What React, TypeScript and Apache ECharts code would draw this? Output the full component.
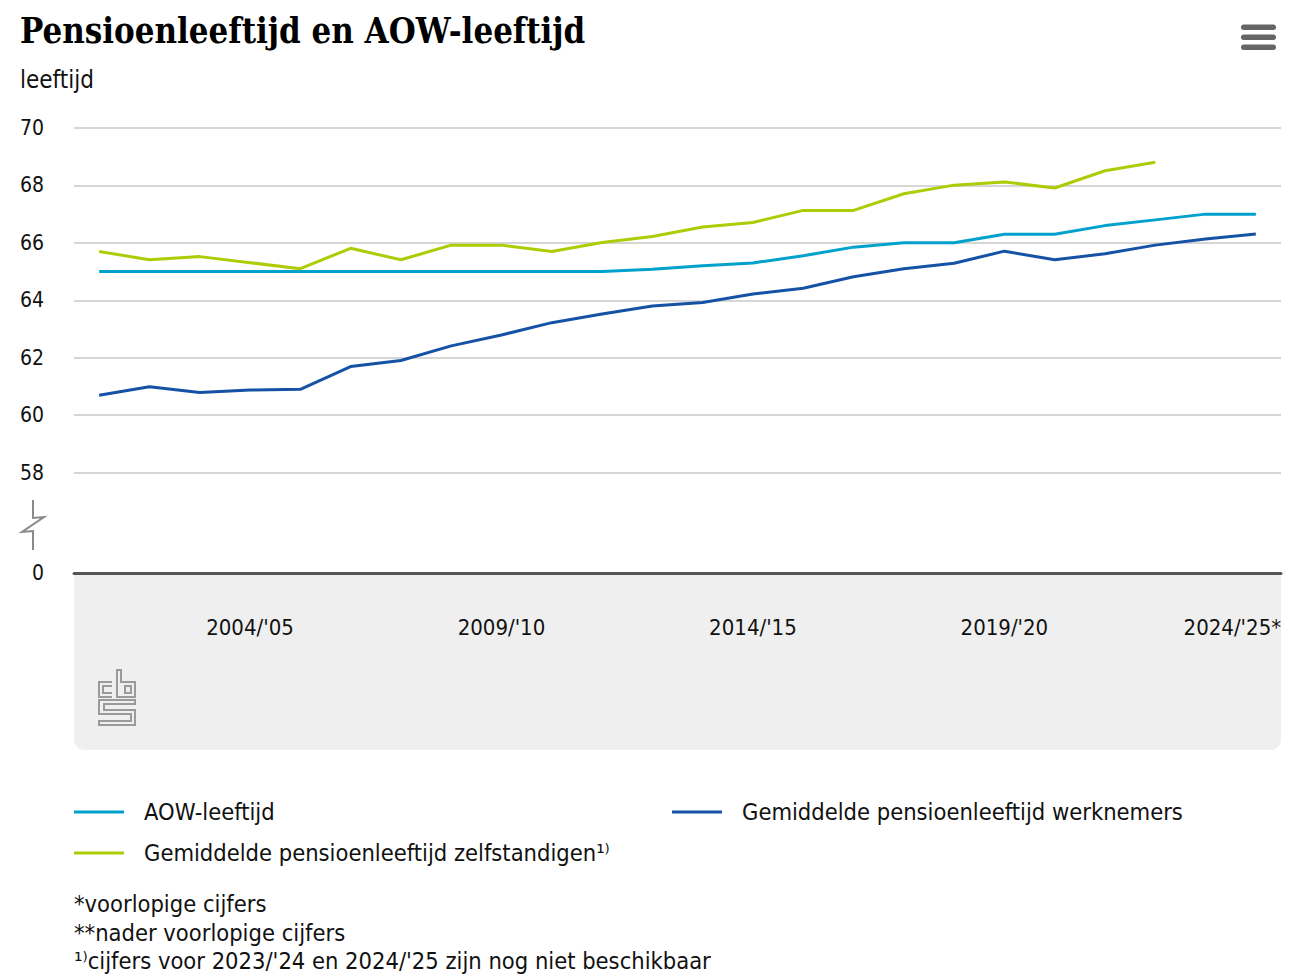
import React, { useEffect, useRef } from "react";
import * as echarts from "echarts";

const categories = [
  "2001/'02", "2002/'03", "2003/'04", "2004/'05", "2005/'06", "2006/'07",
  "2007/'08", "2008/'09", "2009/'10", "2010/'11", "2011/'12", "2012/'13",
  "2013/'14", "2014/'15", "2015/'16", "2016/'17", "2017/'18", "2018/'19",
  "2019/'20", "2020/'21", "2021/'22", "2022/'23", "2023/'24**", "2024/'25*",
];

const aowLeeftijd = [
  65, 65, 65, 65, 65, 65, 65, 65, 65, 65, 65, 65.08,
  65.2, 65.3, 65.55, 65.85, 66.0, 66.0, 66.3, 66.3, 66.6, 66.8, 67.0, 67.0,
];

const werknemers = [
  60.69, 60.99, 60.79, 60.87, 60.9, 61.69, 61.9, 62.41, 62.79, 63.22, 63.52, 63.8,
  63.92, 64.22, 64.42, 64.82, 65.1, 65.29, 65.71, 65.41, 65.62, 65.92, 66.13, 66.31,
];

const zelfstandigen = [
  65.7, 65.41, 65.52, 65.31, 65.1, 65.81, 65.41, 65.92, 65.92, 65.7, 66.01, 66.22,
  66.55, 66.71, 67.13, 67.13, 67.71, 68.01, 68.12, 67.91, 68.51, 68.81, null, null,
];

const yTickValues = [54.5, 58, 60, 62, 64, 66, 68, 70];

const seriesNames = [
  "AOW-leeftijd",
  "Gemiddelde pensioenleeftijd werknemers",
  "Gemiddelde pensioenleeftijd zelfstandigen¹⁾",
];

const footnotes = [
  "*voorlopige cijfers",
  "**nader voorlopige cijfers",
  "¹⁾cijfers voor 2023/'24 en 2024/'25 zijn nog niet beschikbaar",
];

const FONT =
  "'Liberation Sans Narrow', 'DejaVu Sans Condensed', 'Roboto Condensed', 'Noto Sans', sans-serif";
const TITLE_FONT = "'DejaVu Serif Condensed', 'DejaVu Serif', serif";

const LOGO_PATH =
  "M14,12 H1 V27 H14 M14,16 H5 V23 H14 " +
  "M19,0 H23 V12 H37 V27 H19 Z M27,16 H33 V23 H27 Z " +
  "M1,30 H37 V34 H6 V40 H37 V55 H1 V51 H33 V44 H1 Z";

let logoRegistered = false;
function registerLogo() {
  if (logoRegistered) return;
  echarts.graphic.registerShape("cbslogo", echarts.graphic.extendPath(LOGO_PATH, {}));
  logoRegistered = true;
}

export default function App() {
  const ref = useRef<HTMLDivElement>(null);

  useEffect(() => {
    if (!ref.current) return;
    registerLogo();
    const chart = echarts.init(ref.current, undefined, { renderer: "svg" });

    const colors = ["#00a1cd", "#1552a6", "#afcb05"];
    const dataSets = [aowLeeftijd, werknemers, zelfstandigen];

    const legendText = {
      fontSize: 23.5,
      lineHeight: 24,
      fontFamily: FONT,
      color: "#111",
      padding: [0, 0, 0, 15],
    };

    const option: any = {
      animation: false,
      backgroundColor: "#ffffff",
      color: colors,
      title: {
        text: "Pensioenleeftijd en AOW-leeftijd",
        left: 15,
        top: 8,
        textStyle: {
          fontSize: 34.5,
          fontWeight: "bold",
          fontFamily: TITLE_FONT,
          color: "#000",
        },
      },
      grid: { left: 74, right: 18, top: 128, bottom: 405, containLabel: false },
      legend: [
        {
          data: [seriesNames[0], seriesNames[2]],
          orient: "vertical",
          left: 74,
          top: 800,
          padding: 0,
          icon: "rect",
          itemWidth: 50,
          itemHeight: 3,
          itemGap: 17,
          textStyle: legendText,
          selectedMode: false,
        },
        {
          data: [seriesNames[1]],
          orient: "vertical",
          left: 672,
          top: 800,
          padding: 0,
          icon: "rect",
          itemWidth: 50,
          itemHeight: 3,
          itemGap: 17,
          textStyle: legendText,
          selectedMode: false,
        },
      ],
      xAxis: {
        type: "category",
        data: categories,
        boundaryGap: true,
        axisLine: { onZero: false, lineStyle: { color: "#555", width: 3 } },
        axisTick: {
          alignWithLabel: true,
          interval: (i: number) => i % 5 === 3,
          length: 18,
          lineStyle: { color: "#c8c8c8", width: 2 },
        },
        axisLabel: {
          interval: (i: number) => i % 5 === 3,
          margin: 43,
          fontSize: 22,
          fontFamily: FONT,
          color: "#111",
          formatter: (v: string, i: number) => (i === categories.length - 1 ? `{last|${v}}` : v),
          rich: {
            last: {
              fontSize: 22,
              fontFamily: FONT,
              color: "#111",
              padding: [0, 47, 0, 0],
            },
          },
        },
        splitLine: { show: false },
      },
      yAxis: {
        type: "value",
        min: 54.5,
        max: 70,
        axisLine: { show: false },
        axisTick: { show: false, customValues: yTickValues },
        axisLabel: {
          customValues: yTickValues,
          align: "right",
          margin: 30,
          fontSize: 21,
          fontFamily: FONT,
          color: "#111",
          padding: [6, 0, 0, 0],
          formatter: (v: number) => (v < 56 ? "0" : String(v)),
        },
        splitLine: { show: true, lineStyle: { color: "#d6d6d6", width: 2 } },
      },
      series: seriesNames.map((name, k) => ({
        name,
        type: "line",
        data: dataSets[k],
        showSymbol: false,
        symbol: "none",
        connectNulls: false,
        lineStyle: { width: 3, color: colors[k] },
        itemStyle: { color: colors[k] },
        z: k === 1 ? 3 : 2,
      })),
      graphic: [
        {
          type: "rect",
          z: -10,
          shape: { x: 74, y: 574, width: 1207, height: 176, r: [0, 0, 10, 10] },
          style: { fill: "#efefef" },
          silent: true,
        },
        {
          type: "text",
          x: 20,
          y: 80,
          style: {
            text: "leeftijd",
            fontSize: 24,
            fontFamily: FONT,
            fill: "#111",
            verticalAlign: "middle",
          },
        },
        {
          type: "polyline",
          shape: { points: [[33, 500], [33, 518], [44, 517], [22, 532], [33, 531], [33, 550]] },
          style: { stroke: "#8a8a8a", lineWidth: 2, fill: "none" },
        },
        {
          type: "rect",
          shape: { x: 1241, y: 24.5, width: 35, height: 5.5, r: 2.75 },
          style: { fill: "#666" },
        },
        {
          type: "rect",
          shape: { x: 1241, y: 34.5, width: 35, height: 5.5, r: 2.75 },
          style: { fill: "#666" },
        },
        {
          type: "rect",
          shape: { x: 1241, y: 44.5, width: 35, height: 5.5, r: 2.75 },
          style: { fill: "#666" },
        },
        {
          type: "cbslogo",
          x: 98,
          y: 670,
          scaleX: 1,
          scaleY: 1,
          style: { stroke: "#9a9a9a", lineWidth: 2, fill: "none" },
        },
        ...footnotes.map((t, i) => ({
          type: "text",
          x: 74,
          y: 904 + i * 28.5,
          style: {
            text: t,
            fontSize: 23.5,
            fontFamily: FONT,
            fill: "#111",
            verticalAlign: "middle",
          },
        })),
      ],
    };

    chart.setOption(option);
    return () => chart.dispose();
  }, []);

  return (
    <div
      ref={ref}
      style={{ position: "fixed", left: 0, top: 0, width: 1299, height: 978 }}
    />
  );
}
